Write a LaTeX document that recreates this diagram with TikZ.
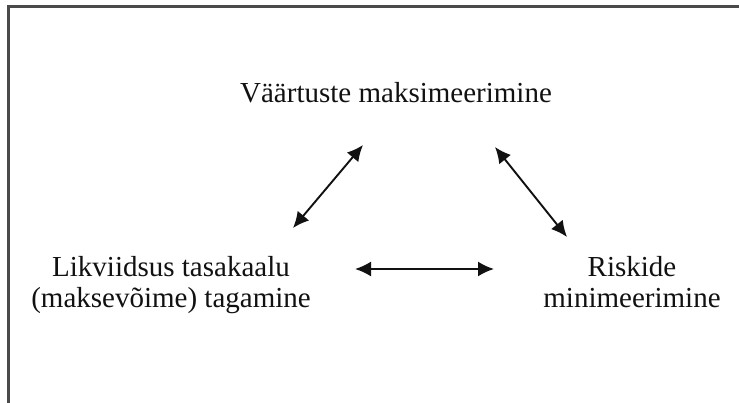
\documentclass[tikz,border=0pt]{standalone}
\usepackage{fontspec}
\setmainfont{Liberation Serif}
\usetikzlibrary{arrows.meta}
\definecolor{ink}{HTML}{111111}
\definecolor{frame}{HTML}{4A4A4A}

\tikzset{
  goal/.style={font=\fontsize{29}{31}\selectfont,text=ink,inner sep=0pt,align=center},
  biarrow/.style={ink,line width=1.9pt,{Latex[length=16pt,width=15pt]}-{Latex[length=16pt,width=15pt]}}
}

\begin{document}
\begin{tikzpicture}[x=1pt,y=-1pt]
  \useasboundingbox (0,0) rectangle (739,403);
  \fill[white] (0,0) rectangle (739,403);
  \draw[frame,line width=2.6pt] (8.5,410)--(8.5,6.7)--(745,6.7);

  \node[goal,anchor=base] (value) at (396,103) {Väärtuste maksimeerimine};
  \node[goal] (liquid) at (171,285.5) {Likviidsus tasakaalu\\(maksevõime) tagamine};
  \node[goal] (risk) at (632,282.5) {Riskide\\minimeerimine};

  % arrow ends
  \coordinate (lv1) at (293,228);
  \coordinate (lv2) at (363,145);
  \coordinate (rv1) at (495,147);
  \coordinate (rv2) at (567,237);
  \coordinate (lr1) at (355,269);
  \coordinate (lr2) at (494,269);

  \draw[biarrow] (lv1)--(lv2);
  \draw[biarrow] (rv1)--(rv2);
  \draw[biarrow] (lr1)--(lr2);
\end{tikzpicture}
\end{document}
